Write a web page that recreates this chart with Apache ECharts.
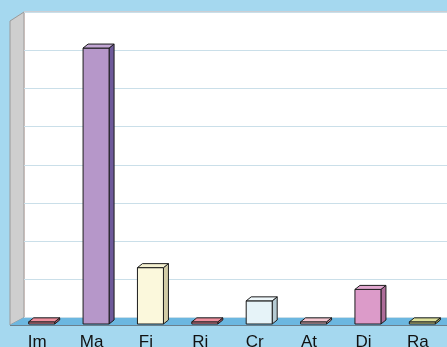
<!DOCTYPE html>
<html>
<head>
<meta charset="utf-8">
<script src="https://cdn.jsdelivr.net/npm/echarts@6/dist/echarts.min.js"></script>
<style>
  html, body { margin: 0; padding: 0; background: #a5d8ef; }
  #chart { width: 447px; height: 347px; }
</style>
</head>
<body>
<div id="chart"></div>
<script>
// Categories and their values
const categories = ['Im', 'Ma', 'Fi', 'Ri', 'Cr', 'At', 'Di', 'Ra'];
const values = [0.3, 72, 14.5, 0.3, 5.8, 0.3, 8.8, 0.3];

// Value axis range and tick step
const axisMin = 0;
const axisMax = 80;
const axisStep = 10;

// Bar face colours: [front, side, top]
const palette = [
  ['#ee8a9a', '#b85a6a', '#f0909e'],
  ['#b697c9', '#6e5a9a', '#c2a6d4'],
  ['#fbf8dc', '#d2cca6', '#f4f0d0'],
  ['#ee8a9a', '#b85a6a', '#f0909e'],
  ['#e6f3f8', '#b6cbd3', '#eef7fa'],
  ['#f4c0cc', '#c88e9a', '#f6c8d2'],
  ['#dc9bc9', '#ad6c99', '#e2a8d0'],
  ['#d8dc8e', '#a8ac62', '#dfe29c']
];

// Depth offset of the pseudo-3D bars (front -> back)
const DX = 5, DY = 4;
const BAR_W = 26;

const chart = echarts.init(document.getElementById('chart'), null, { renderer: 'canvas' });

function renderBar(params, api) {
  const i = api.value(0);
  const v = api.value(1);
  const cx = api.coord([i, 0])[0];
  const base = api.coord([i, axisMin])[1];
  const topY = api.coord([i, v])[1];
  const x0 = cx + 4.5 - BAR_W / 2;
  const x1 = x0 + BAR_W;
  const b = base + 6.5;
  const t = topY + 5.5;
  const c = palette[i];
  const stroke = { stroke: '#1c1c1c', lineWidth: 1, lineJoin: 'round' };
  return {
    type: 'group',
    children: [
      {
        type: 'polygon',
        shape: { points: [[x1, t], [x1 + DX, t - DY], [x1 + DX, b - DY], [x1, b]] },
        style: Object.assign({ fill: c[1] }, stroke)
      },
      {
        type: 'rect',
        shape: { x: x0, y: t, width: BAR_W, height: Math.max(b - t, 1) },
        style: Object.assign({ fill: c[0] }, stroke)
      },
      {
        type: 'polygon',
        shape: { points: [[x0, t], [x1, t], [x1 + DX, t - DY], [x0 + DX, t - DY]] },
        style: Object.assign({ fill: c[2] }, stroke)
      }
    ]
  };
}

const option = {
  backgroundColor: '#a5d8ef',
  animation: false,
  graphic: [
    // left side wall
    {
      type: 'polygon',
      z: 0,
      shape: { points: [[10, 21], [24, 12], [24, 317.5], [10, 325]] },
      style: { fill: '#cfcfcf', stroke: '#9a9a9a', lineWidth: 1 }
    },
    // floor
    {
      type: 'polygon',
      z: 0,
      shape: { points: [[10, 325], [24, 317.5], [447, 317.5], [447, 325]] },
      style: { fill: '#6cb7e0' }
    },
    {
      type: 'line',
      z: 0,
      shape: { x1: 10, y1: 325.5, x2: 447, y2: 325.5 },
      style: { stroke: '#6a7f8c', lineWidth: 1 }
    }
  ],
  grid: [
    {
      left: 24, top: 12, right: -2, height: 305.5,
      outerBoundsMode: 'none', containLabel: false,
      show: true, backgroundColor: '#ffffff', borderColor: '#f0c4b8', borderWidth: 1
    },
    {
      left: 10, top: 12, right: 2, height: 305.5,
      outerBoundsMode: 'none', containLabel: false
    }
  ],
  xAxis: [
    { gridIndex: 0, type: 'category', data: categories, show: false },
    {
      gridIndex: 1, type: 'category', data: categories,
      axisLine: { show: false }, axisTick: { show: false },
      axisLabel: {
        margin: 16, fontSize: 17, color: '#111111',
        fontFamily: '"Liberation Sans", Arial, sans-serif'
      }
    }
  ],
  yAxis: [
    {
      gridIndex: 0, type: 'value', min: axisMin, max: axisMax, interval: axisStep,
      axisLabel: { show: false }, axisLine: { show: false }, axisTick: { show: false },
      splitLine: { show: true, lineStyle: { color: '#cadfe9', width: 1 } }
    },
    {
      gridIndex: 1, type: 'value', min: axisMin, max: axisMax, interval: axisStep,
      show: false
    }
  ],
  series: [
    {
      type: 'custom',
      xAxisIndex: 1,
      yAxisIndex: 1,
      z: 5,
      clip: false,
      encode: { x: 0, y: 1 },
      data: categories.map((c, i) => [i, values[i]]),
      renderItem: renderBar
    }
  ]
};

chart.setOption(option);
</script>
</body>
</html>
